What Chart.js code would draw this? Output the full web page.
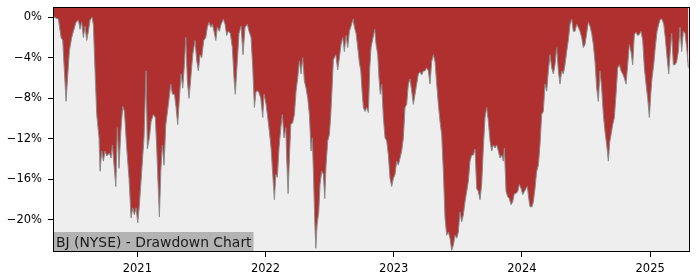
<!DOCTYPE html>
<html>
<head>
<meta charset="utf-8">
<script src="https://cdn.jsdelivr.net/npm/chart.js@4/dist/chart.umd.min.js"></script>
<style>
  body { margin: 0; background: #fff; }
  canvas { display: block; }
</style>
</head>
<body>
<canvas id="chart" width="700" height="280"></canvas>
<script>
// dates as decimal years, drawdown in percent
var dates = [
  2020.350, 2020.384, 2020.405, 2020.418, 2020.428, 2020.444, 2020.454, 2020.470, 2020.488, 2020.501,
  2020.522, 2020.540, 2020.553, 2020.566, 2020.579, 2020.592, 2020.605, 2020.618, 2020.631, 2020.647,
  2020.657, 2020.670, 2020.683, 2020.701, 2020.709, 2020.722, 2020.735, 2020.748, 2020.761, 2020.782,
  2020.795, 2020.805, 2020.818, 2020.832, 2020.844, 2020.857, 2020.871, 2020.886, 2020.899, 2020.917,
  2020.935, 2020.951, 2020.964, 2020.977, 2020.990, 2021.003, 2021.016, 2021.034, 2021.052, 2021.068,
  2021.078, 2021.094, 2021.107, 2021.125, 2021.140, 2021.151, 2021.164, 2021.172, 2021.183, 2021.195,
  2021.208, 2021.222, 2021.242, 2021.261, 2021.273, 2021.289, 2021.302, 2021.315, 2021.328, 2021.341,
  2021.354, 2021.367, 2021.378, 2021.390, 2021.403, 2021.417, 2021.432, 2021.450, 2021.463, 2021.476,
  2021.489, 2021.502, 2021.518, 2021.534, 2021.546, 2021.559, 2021.573, 2021.585, 2021.598, 2021.612,
  2021.624, 2021.640, 2021.653, 2021.671, 2021.684, 2021.697, 2021.710, 2021.725, 2021.741, 2021.754,
  2021.764, 2021.778, 2021.793, 2021.809, 2021.824, 2021.840, 2021.858, 2021.871, 2021.887, 2021.900,
  2021.913, 2021.926, 2021.944, 2021.963, 2021.978, 2021.988, 2022.004, 2022.014, 2022.030, 2022.043,
  2022.056, 2022.069, 2022.080, 2022.092, 2022.105, 2022.119, 2022.131, 2022.144, 2022.158, 2022.165,
  2022.176, 2022.186, 2022.197, 2022.212, 2022.225, 2022.238, 2022.251, 2022.264, 2022.277, 2022.290,
  2022.303, 2022.316, 2022.329, 2022.342, 2022.355, 2022.365, 2022.373, 2022.384, 2022.392, 2022.402,
  2022.415, 2022.425, 2022.438, 2022.451, 2022.462, 2022.472, 2022.485, 2022.498, 2022.509, 2022.519,
  2022.529, 2022.548, 2022.563, 2022.576, 2022.589, 2022.602, 2022.615, 2022.628, 2022.641, 2022.654,
  2022.667, 2022.683, 2022.693, 2022.706, 2022.719, 2022.732, 2022.743, 2022.753, 2022.763, 2022.776,
  2022.789, 2022.802, 2022.813, 2022.823, 2022.839, 2022.852, 2022.862, 2022.875, 2022.885, 2022.895,
  2022.906, 2022.919, 2022.932, 2022.945, 2022.958, 2022.971, 2022.984, 2022.997, 2023.010, 2023.023,
  2023.036, 2023.049, 2023.062, 2023.075, 2023.088, 2023.101, 2023.114, 2023.127, 2023.140, 2023.153,
  2023.166, 2023.179, 2023.192, 2023.205, 2023.218, 2023.231, 2023.244, 2023.257, 2023.270, 2023.283,
  2023.296, 2023.309, 2023.322, 2023.335, 2023.348, 2023.361, 2023.374, 2023.387, 2023.400, 2023.413,
  2023.426, 2023.439, 2023.452, 2023.465, 2023.478, 2023.491, 2023.504, 2023.517, 2023.530, 2023.543,
  2023.556, 2023.569, 2023.582, 2023.595, 2023.608, 2023.621, 2023.634, 2023.647, 2023.660, 2023.673,
  2023.686, 2023.699, 2023.712, 2023.725, 2023.738, 2023.751, 2023.764, 2023.777, 2023.790, 2023.803,
  2023.816, 2023.829, 2023.842, 2023.855, 2023.863, 2023.876, 2023.889, 2023.902, 2023.915, 2023.928,
  2023.941, 2023.954, 2023.967, 2023.980, 2023.993, 2024.006, 2024.019, 2024.032, 2024.042, 2024.053,
  2024.063, 2024.079, 2024.089, 2024.102, 2024.115, 2024.128, 2024.141, 2024.154, 2024.167, 2024.180,
  2024.193, 2024.206, 2024.219, 2024.232, 2024.245, 2024.258, 2024.271, 2024.284, 2024.297, 2024.310,
  2024.323, 2024.336, 2024.349, 2024.362, 2024.375, 2024.388, 2024.401, 2024.414, 2024.427, 2024.440,
  2024.453, 2024.466, 2024.479, 2024.492, 2024.505, 2024.518, 2024.531, 2024.544, 2024.557, 2024.570,
  2024.583, 2024.596, 2024.609, 2024.622, 2024.635, 2024.648, 2024.661, 2024.674, 2024.685, 2024.695,
  2024.708, 2024.721, 2024.734, 2024.747, 2024.760, 2024.773, 2024.786, 2024.799, 2024.812, 2024.825,
  2024.838, 2024.851, 2024.864, 2024.877, 2024.890, 2024.903, 2024.916, 2024.929, 2024.942, 2024.955,
  2024.968, 2024.981, 2024.994, 2025.005, 2025.015, 2025.028, 2025.040, 2025.054, 2025.067, 2025.079,
  2025.093, 2025.106, 2025.118, 2025.132, 2025.145, 2025.157, 2025.168, 2025.181, 2025.194, 2025.207,
  2025.220, 2025.233, 2025.246, 2025.259, 2025.272, 2025.285, 2025.298, 2025.309
];
var drawdown = [
  0.0, -0.2, -2.0, -2.3, -4.7, -8.3, -6.3, -3.3, -2.0, -1.4,
  -0.5, -0.3, -1.2, -0.5, -2.0, -0.9, -2.3, -1.4, -0.3, 0.0,
  -0.8, -5.3, -9.6, -11.9, -15.2, -13.2, -14.2, -13.2, -13.7, -13.4,
  -13.9, -12.6, -14.6, -16.7, -10.9, -14.9, -11.3, -8.8, -9.3, -12.9,
  -15.9, -19.8, -18.8, -19.5, -18.8, -20.3, -18.5, -15.2, -11.9, -5.3,
  -13.0, -11.9, -10.3, -9.6, -9.9, -12.9, -17.2, -19.7, -15.2, -12.6,
  -14.6, -10.6, -8.6, -6.6, -7.6, -7.6, -8.9, -10.6, -8.0, -5.6,
  -7.0, -4.7, -2.0, -6.3, -8.0, -6.0, -3.7, -2.3, -4.3, -5.3,
  -3.7, -4.0, -2.3, -2.0, -1.0, -0.5, -1.0, -0.7, -1.4, -2.3,
  -1.0, -1.4, -0.7, -0.2, -0.7, -1.8, -1.4, -1.6, -3.0, -6.0,
  -7.6, -4.7, -1.6, -0.9, -3.7, -1.0, -0.7, -1.4, -2.0, -5.0,
  -8.9, -7.3, -7.3, -8.0, -9.9, -7.6, -8.6, -9.6, -11.3, -12.9,
  -15.5, -18.0, -15.5, -15.8, -12.9, -10.9, -9.6, -11.9, -10.9, -13.9,
  -17.4, -13.9, -10.6, -10.4, -9.6, -7.3, -6.0, -4.3, -5.6, -4.0,
  -6.3, -7.0, -8.0, -9.6, -13.2, -11.9, -15.2, -20.2, -22.8, -20.5,
  -19.2, -16.5, -15.2, -15.5, -17.9, -14.6, -12.2, -11.6, -9.6, -7.0,
  -4.2, -3.7, -5.2, -4.0, -2.7, -2.0, -3.4, -1.8, -3.0, -1.4,
  -0.9, -0.2, -1.0, -1.6, -3.0, -4.5, -5.3, -7.3, -8.9, -9.3,
  -8.9, -9.4, -5.0, -3.0, -2.0, -1.2, -2.7, -3.7, -6.0, -7.6,
  -6.6, -9.9, -11.9, -12.2, -13.6, -15.9, -16.7, -15.9, -15.5, -14.2,
  -14.6, -13.9, -13.2, -11.9, -8.9, -8.6, -6.6, -6.1, -7.3, -8.6,
  -7.6, -6.6, -5.6, -5.4, -5.7, -5.3, -5.3, -5.0, -5.3, -6.6,
  -4.4, -3.7, -4.4, -6.6, -8.6, -10.3, -11.6, -15.2, -19.8, -21.5,
  -21.2, -21.8, -23.0, -22.5, -21.5, -21.8, -21.2, -19.2, -20.2, -19.5,
  -18.2, -17.2, -16.2, -14.2, -13.6, -13.6, -13.0, -16.9, -17.2, -18.0,
  -16.5, -12.9, -9.9, -8.9, -10.3, -12.2, -13.2, -12.6, -12.9, -12.6,
  -13.2, -13.9, -13.6, -14.2, -12.9, -17.2, -17.7, -17.9, -18.5, -18.2,
  -17.4, -17.4, -17.2, -16.5, -16.9, -17.5, -17.2, -16.9, -16.7, -17.9,
  -18.7, -18.7, -18.2, -16.9, -15.2, -14.6, -12.6, -9.6, -9.3, -6.6,
  -7.3, -5.3, -3.7, -5.0, -5.6, -4.7, -3.0, -5.3, -6.6, -5.3,
  -5.6, -4.7, -3.4, -2.3, -0.7, -0.2, -1.4, -1.4, -0.7, -1.0,
  -1.4, -2.0, -3.0, -2.7, -1.6, -0.5, -0.9, -1.6, -2.7, -4.4,
  -7.0, -8.3, -5.3, -7.0, -9.6, -11.3, -12.6, -14.2, -12.3, -11.6,
  -10.6, -9.9, -7.6, -5.0, -4.7, -5.3, -5.6, -6.0, -6.6, -4.7,
  -2.7, -3.4, -4.7, -1.7, -1.5, -1.8, -1.7, -1.4, -2.3, -5.0,
  -6.6, -8.0, -9.9, -7.6, -6.0, -4.7, -3.0, -1.4, -0.7, -0.2,
  -0.2, -0.7, -2.0, -4.0, -5.6, -3.4, -1.6, -4.7, -4.7, -4.4,
  -3.4, -1.0, -3.4, -1.4, -1.6, -3.0, -5.0
];
var yearTicks = [2021, 2022, 2023, 2024, 2025];
var pctTicks = [-20, -16, -12, -8, -4, 0];
var title = 'BJ (NYSE) - Drawdown Chart';

var points = dates.map(function (d, i) { return { x: d, y: drawdown[i] }; });

Chart.defaults.font.family = 'DejaVu Sans';
Chart.defaults.font.size = 11.5;
Chart.defaults.color = '#000';

var framePlugin = {
    id: 'frame',
    beforeDraw: function (chart) {
        var a = chart.chartArea, ctx = chart.ctx;
        ctx.save();
        ctx.fillStyle = '#eeeeee';
        ctx.fillRect(a.left, a.top, a.right - a.left, a.bottom - a.top);
        ctx.restore();
    },
    afterDraw: function (chart) {
        var a = chart.chartArea, ctx = chart.ctx;
        ctx.save();
        ctx.font = '13.9px "DejaVu Sans"';
        var w = ctx.measureText(title).width;
        ctx.fillStyle = '#b3b3b3';
        ctx.fillRect(a.left, a.bottom - 20, w + 5, 20);
        ctx.fillStyle = '#1a1a1a';
        ctx.textBaseline = 'alphabetic';
        ctx.fillText(title, a.left + 3, a.bottom - 5.5);
        ctx.strokeStyle = '#000';
        ctx.lineWidth = 1;
        ctx.strokeRect(a.left + 0.5, a.top + 0.5, a.right - a.left - 1, a.bottom - a.top - 1);
        ctx.restore();
    }
};

function noPad(scale) {
    scale.paddingTop = 0;
    scale.paddingBottom = 0;
    scale.paddingLeft = 0;
    scale.paddingRight = 0;
}

new Chart(document.getElementById('chart'), {
    type: 'line',
    data: {
        datasets: [{
            data: points,
            borderColor: '#8a8a8a',
            borderWidth: 1,
            backgroundColor: '#b03030',
            fill: 'end',
            pointRadius: 0,
            tension: 0
        }]
    },
    options: {
        responsive: false,
        animation: false,
        devicePixelRatio: 1,
        layout: { padding: { top: 7, right: 10, left: 0, bottom: 0 } },
        plugins: { legend: { display: false }, tooltip: { enabled: false } },
        scales: {
            x: {
                type: 'linear',
                min: 2020.342,
                max: 2025.311,
                afterBuildTicks: function (s) { s.ticks = yearTicks.map(function (v) { return { value: v }; }); },
                afterFit: function (s) { s.height = 28; noPad(s); },
                grid: { drawOnChartArea: false, tickLength: 5, color: '#000' },
                border: { display: false },
                ticks: { padding: 5, maxRotation: 0, callback: function (v) { return String(v); } }
            },
            y: {
                min: -23.16,
                max: 1.0,
                afterBuildTicks: function (s) { s.ticks = pctTicks.map(function (v) { return { value: v }; }); },
                afterFit: function (s) { s.width = 53; noPad(s); },
                grid: { drawOnChartArea: false, tickLength: 5, color: '#000' },
                border: { display: false },
                ticks: {
                    padding: 6,
                    callback: function (v) { return (v < 0 ? '\u2212' + Math.abs(v) : v) + '%'; }
                }
            }
        }
    },
    plugins: [framePlugin]
});
</script>
</body>
</html>
